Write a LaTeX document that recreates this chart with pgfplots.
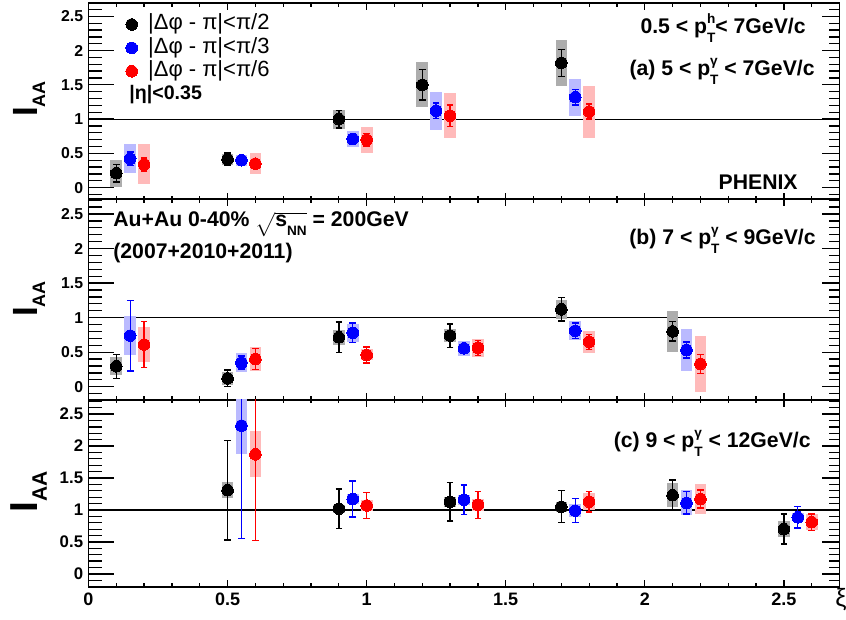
\documentclass[border=0pt]{standalone}
\usepackage{fontspec}
\setmainfont{Liberation Sans}
\usepackage{pgfplots}
\pgfplotsset{compat=1.18}
\usepackage{pgfplotstable}

\definecolor{sysK}{gray}{0.68}
\colorlet{sysB}{blue!27}
\colorlet{sysR}{red!27}

\newcommand{\pT}[1]{p\rlap{\raisebox{0.95ex}{\fontsize{6.8}{6.8}\selectfont #1}}\raisebox{-0.8ex}{\fontsize{6.8}{6.8}\selectfont T}}

% panel (a)
\pgfplotstableread{
x y stat sys
0.1 0.21 0.13 0.20
0.5 0.415 0.09 0.08
0.9 1.00 0.13 0.14
1.2 1.50 0.22 0.33
1.7 1.82 0.20 0.33
}\aK
\pgfplotstableread{
x y stat sys
0.15 0.42 0.10 0.21
0.55 0.40 0.03 0.08
0.95 0.71 0.065 0.12
1.25 1.12 0.115 0.275
1.75 1.32 0.115 0.27
}\aB
\pgfplotstableread{
x y stat sys
0.2 0.34 0.10 0.29
0.6 0.35 0.06 0.15
1.0 0.70 0.09 0.19
1.3 1.05 0.155 0.33
1.8 1.11 0.11 0.38
}\aR
% panel (b)
\pgfplotstableread{
x y stat sys
0.1 0.295 0.175 0.13
0.5 0.12 0.12 0.10
0.9 0.715 0.22 0.11
1.3 0.74 0.17 0.10
1.7 1.12 0.17 0.14
2.1 0.80 0.14 0.30
}\bK
\pgfplotstableread{
x y stat sys
0.15 0.74 0.51 0.28
0.55 0.35 0.095 0.135
0.95 0.78 0.14 0.13
1.35 0.555 0.05 0.105
1.75 0.81 0.11 0.14
2.15 0.53 0.115 0.30
}\bB
\pgfplotstableread{
x y stat sys
0.2 0.61 0.335 0.25
0.6 0.40 0.15 0.17
1.0 0.46 0.115 0.08
1.4 0.56 0.105 0.125
1.8 0.65 0.11 0.155
2.2 0.33 0.135 0.40
}\bR
% panel (c)
\pgfplotstableread{
x y stat sys
0.5 1.31 0.78 0.125
0.9 1.02 0.31 0.06
1.3 1.125 0.30 0.08
1.7 1.05 0.25 0.08
2.1 1.23 0.24 0.19
2.5 0.70 0.235 0.13
}\cK
\pgfplotstableread{
x y stat sys
0.55 2.32 1.77 0.44
0.95 1.17 0.28 0.08
1.35 1.16 0.23 0.08
1.75 0.99 0.185 0.10
2.15 1.11 0.175 0.195
2.55 0.885 0.165 0.065
}\cB
\pgfplotstableread{
x y stat sys
0.6 1.87 1.35 0.36
1.0 1.07 0.205 0.08
1.4 1.08 0.21 0.09
1.8 1.13 0.16 0.13
2.2 1.17 0.14 0.23
2.6 0.81 0.13 0.12
}\cR

\pgfplotsset{
  panel/.style={
    scale only axis, width=375.5pt, xmin=0, xmax=2.7,
    axis line style={line width=0.9pt},
    tick align=inside,
    xtick={0,0.5,1,1.5,2,2.5}, minor xtick={0,0.1,...,2.7},
    ytick={0,0.5,1,1.5,2,2.5}, minor ytick={-0.1,0,...,2.7},
    ytick pos=left,
    every major x tick/.append style={/pgfplots/major tick length=3.3pt},
    every minor x tick/.append style={/pgfplots/minor tick length=1.7pt},
    every major y tick/.append style={/pgfplots/major tick length=12.5pt},
    every minor y tick/.append style={/pgfplots/minor tick length=6.5pt},
    tick style={line width=0.65pt, black},
    yticklabels={0,0.5,1,1.5,2,2.5},
    yticklabel style={font=\bfseries\fontsize{7.9}{8}\selectfont, inner sep=0pt, xshift=-2.5pt},
    xticklabels={},
  },
  rticks/.style={
    scale only axis, width=375.5pt, xmin=0, xmax=2.7,
    axis line style={draw=none},
    tick align=inside,
    xtick=\empty,
    ytick={0,0.5,1,1.5,2,2.5}, minor ytick={-0.1,0,...,2.7},
    ytick pos=right,
    every major y tick/.append style={/pgfplots/major tick length=9pt},
    every minor y tick/.append style={/pgfplots/minor tick length=5.5pt},
    tick style={line width=0.65pt, black},
    yticklabels={},
  },
  sys/.style={only marks, mark=none, forget plot,
    error bars/.cd, y dir=both, y explicit, error mark=none,
    error bar style={line width=5.85pt, draw=#1, solid}},
  stat/.style={only marks, mark=*, color=#1, mark size=2.9pt,
    mark options={solid, fill=#1, draw=#1, line width=0pt},
    error bars/.cd, y dir=both, y explicit,
    error bar style={line width=0.7pt, color=#1, solid},
    error mark options={rotate=90, mark size=1.65pt, line width=0.7pt, color=#1, solid}},
  unity/.style={black, line width=0.6pt, forget plot},
}

\begin{document}
\begin{tikzpicture}
\useasboundingbox (0,0) rectangle (423pt,310pt);

% ---------- panel (a)
\begin{axis}[panel, at={(44.25pt,210.35pt)}, anchor=south west, height=98pt, ymin=-0.17, ymax=2.69,
  legend style={at={(axis cs:0.133,2.54)}, anchor=north west, draw=none, fill=none,
    inner sep=0pt, column sep=5.3pt, row sep=1.2pt,
    font=\fontsize{11}{13}\selectfont,
    nodes={inner sep=0pt, text height=8pt, text depth=2.5pt}},
  legend cell align=left,
  legend image code/.code={\draw[#1] plot coordinates {(0pt,0pt)};}]
\addplot[unity] coordinates {(0,1) (2.7,1)};
\addplot[sys=sysK] table[x=x,y=y,y error=sys]{\aK};
\addplot[sys=sysB] table[x=x,y=y,y error=sys]{\aB};
\addplot[sys=sysR] table[x=x,y=y,y error=sys]{\aR};
\addplot[stat=black] table[x=x,y=y,y error=stat]{\aK};
\addlegendentry{|Δφ - π|<π/2}
\addplot[stat=blue] table[x=x,y=y,y error=stat]{\aB};
\addlegendentry{|Δφ - π|<π/3}
\addplot[stat=red] table[x=x,y=y,y error=stat]{\aR};
\addlegendentry{|Δφ - π|<π/6}
\end{axis}
\begin{axis}[rticks, at={(44.25pt,210.35pt)}, anchor=south west, height=98pt, ymin=-0.17, ymax=2.69]
\end{axis}

% ---------- panel (b)
\begin{axis}[panel, at={(44.25pt,110.25pt)}, anchor=south west, height=100pt, ymin=-0.185, ymax=2.71]
\addplot[unity] coordinates {(0,1) (2.7,1)};
\addplot[sys=sysK] table[x=x,y=y,y error=sys]{\bK};
\addplot[sys=sysB] table[x=x,y=y,y error=sys]{\bB};
\addplot[sys=sysR] table[x=x,y=y,y error=sys]{\bR};
\addplot[stat=black] table[x=x,y=y,y error=stat]{\bK};
\addplot[stat=blue] table[x=x,y=y,y error=stat]{\bB};
\addplot[stat=red] table[x=x,y=y,y error=stat]{\bR};
\end{axis}
\begin{axis}[rticks, at={(44.25pt,110.25pt)}, anchor=south west, height=100pt, ymin=-0.185, ymax=2.71]
\end{axis}

% ---------- panel (c)
\begin{axis}[panel, at={(44.25pt,16.65pt)}, anchor=south west, height=93.35pt, ymin=-0.2, ymax=2.72,
  xticklabels={0,0.5,1,1.5,2,2.5},
  xticklabel style={font=\bfseries\fontsize{9}{10}\selectfont, inner sep=0pt, yshift=-3pt},
  yticklabel style={font=\bfseries\fontsize{8.4}{9}\selectfont}]
\addplot[unity] coordinates {(0,1) (2.7,1)};
\addplot[sys=sysK] table[x=x,y=y,y error=sys]{\cK};
\addplot[sys=sysB] table[x=x,y=y,y error=sys]{\cB};
\addplot[sys=sysR] table[x=x,y=y,y error=sys]{\cR};
\addplot[stat=black] table[x=x,y=y,y error=stat]{\cK};
\addplot[stat=blue] table[x=x,y=y,y error=stat]{\cB};
\addplot[stat=red] table[x=x,y=y,y error=stat]{\cR};
\end{axis}
\begin{axis}[rticks, at={(44.25pt,16.65pt)}, anchor=south west, height=93.35pt, ymin=-0.2, ymax=2.72]
\end{axis}

% ---------- texts
\begin{scope}[every node/.style={inner sep=0pt, font=\bfseries\fontsize{10.6}{12}\selectfont}]
\node[anchor=base east] at (403pt,293pt) {0.5 < \pT{h}< 7GeV/c};
\node[anchor=base east] at (407.5pt,272pt) {(a) 5 < \pT{γ} < 7GeV/c};
\node[anchor=base east] at (399pt,215pt) {PHENIX};
\node[anchor=base west, font=\bfseries\fontsize{9.8}{11}\selectfont] at (64.5pt,260pt) {|η|<0.35};
\node[anchor=base west] at (56.5pt,196.65pt) {Au+Au 0-40\% $\sqrt{\mbox{s\raisebox{-0.8ex}{\fontsize{6.8}{6.8}\selectfont NN}}}$ = 200GeV};
\node[anchor=base west] at (56.5pt,180.85pt) {(2007+2010+2011)};
\node[anchor=base east] at (408pt,187.5pt) {(b) 7 < \pT{γ} < 9GeV/c};
\node[anchor=base east] at (405.5pt,86.15pt) {(c) 9 < \pT{γ} < 12GeV/c};
% y labels
\node[rotate=90, anchor=base] at (18.5pt,260.5pt) {\fontsize{17.5}{18}\selectfont I\raisebox{-4pt}{\fontsize{9}{9}\selectfont AA}};
\node[rotate=90, anchor=base] at (18.5pt,160.5pt) {\fontsize{17.5}{18}\selectfont I\raisebox{-4pt}{\fontsize{9}{9}\selectfont AA}};
\node[rotate=90, anchor=base] at (18.5pt,64.25pt) {\fontsize{19.5}{20}\selectfont I\raisebox{-5pt}{\fontsize{10.5}{10.5}\selectfont AA}};
% x label
\node[font=\fontsize{12.5}{13}\selectfont] at (420.5pt,10pt) {ξ};
\end{scope}
\end{tikzpicture}
\end{document}
